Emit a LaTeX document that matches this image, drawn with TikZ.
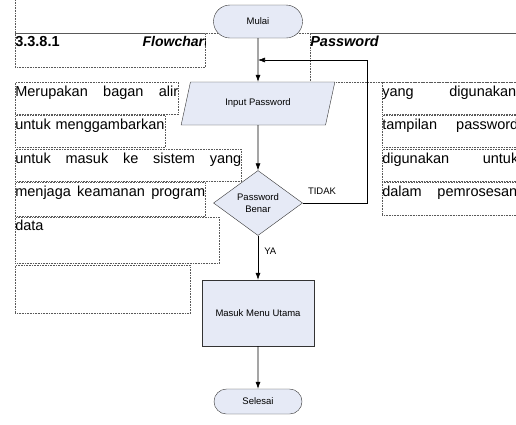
\documentclass[tikz,border=0pt]{standalone}
\usepackage{fontspec}
\setmainfont{Liberation Sans}
\usepackage{xcolor}
\usetikzlibrary{shapes.geometric, shapes.misc, arrows.meta}
\definecolor{boxfill}{HTML}{E6EAF6}

\begin{document}
\begin{tikzpicture}[
		x = 1pt, y = -1pt,
		every node/.style = {inner sep = 0pt},
		frame/.style    = {draw = black!65, densely dotted, line width = 0.6pt,
			anchor = north west, align = left, text height = 14pt,
			font = \fontsize{14.5}{17}\selectfont},
		head/.style     = {font = \fontsize{14}{17}\selectfont\bfseries},
		shapebox/.style = {draw = black!80, fill = boxfill,
			font = \fontsize{9.5}{12.5}\selectfont},
		terminal/.style = {shapebox, rounded rectangle},
		inout/.style    = {shapebox, trapezium, trapezium left angle = 63,
			trapezium right angle = 117, trapezium stretches = true},
		decision/.style = {shapebox, diamond, aspect = 1.37, align = center},
		process/.style  = {shapebox, rectangle},
		label/.style    = {font = \fontsize{9.5}{12.5}\selectfont},
		line/.style     = {draw = black, line width = 0.6pt, -{Latex[length = 7pt, width = 5pt]}}
	]
	\useasboundingbox (0,0) rectangle (516,424);

	% bingkai teks halaman
	\node [frame, text width = 520pt, text height = 0pt, text depth = 43pt] (atas) at (15,-10) {};
	\node [frame, text width = 190pt, text height = 13pt, text depth = 21pt] (judulkiri) at (15,33) {\bfseries 3.3.8.1};
	\begin{scope}
		\clip (judulkiri.north west) rectangle (judulkiri.south east);
		\node [head, anchor = base east] (flow) at (209,46) {\itshape Flowchart};
	\end{scope}
	\node [frame, text width = 220pt, text height = 13pt, text depth = 36pt] (judulkanan) at (310,33) {\bfseries\itshape Password};

	\node [frame, text width = 163pt, text depth = 18pt] (f1) at (15,82) {\hbox to 163pt{Merupakan\hfill bagan\hfill alir}};
	\node [frame, text width = 150pt, text depth = 18pt] (f2) at (15,115) {untuk menggambarkan};
	\node [frame, text width = 226pt, text depth = 18pt] (f3) at (15,149) {\hbox to 226pt{untuk\hfill masuk\hfill ke\hfill sistem\hfill yang}};
	\node [frame, text width = 190pt, text depth = 20pt] (f4) at (15,182) {\hbox to 190pt{menjaga\hfill keamanan\hfill program}};
	\node [frame, text width = 204pt, text height = 13pt, text depth = 33pt] (f5) at (15,217) {data};
	\node [frame, text width = 175pt, text depth = 34pt] (f6) at (15,265) {};

	\node [frame, text width = 150pt, text depth = 18pt] (r1) at (382,82) {\hbox to 134pt{yang\hfill digunakan}};
	\node [frame, text width = 150pt, text depth = 18pt] (r2) at (382,115) {\hbox to 136pt{tampilan\hfill password}};
	\node [frame, text width = 150pt, text depth = 18pt] (r3) at (382,149) {\hbox to 136pt{digunakan\hfill untuk}};
	\node [frame, text width = 150pt, text depth = 19pt] (r4) at (382,182) {\hbox to 135pt{dalam\hfill pemrosesan}};

	% flowchart
	\node [terminal, minimum width = 89pt, minimum height = 33pt] (mulai) at (258,21.5) {Mulai};
	\node [inout, minimum width = 154pt, minimum height = 43pt] (input) at (258,103.5) {Input Password};
	\node [decision, minimum width = 89pt, minimum height = 65pt] (cek) at (258,203) {Password\\Benar};
	\node [process, minimum width = 112pt, minimum height = 66pt] (menu) at (258,313) {Masuk Menu Utama};
	\node [terminal, minimum width = 88pt, minimum height = 25pt] (selesai) at (258,401.5) {Selesai};

	\coordinate (balik) at (367,60);
	\coordinate (gabung) at (258,60);

	\draw [line] (mulai) -- (input);
	\draw [line] (input) -- (cek);
	\draw [line] (cek) -- node [label, right = 6pt, pos = 0.35] (ya) {YA} (menu);
	\draw [line] (menu) -- (selesai);
	\draw [line] (cek.east) -- node [label, above = 8pt, pos = 0.3] (tidak) {TIDAK} (cek.east -| balik) -- (balik) -- (gabung);
\end{tikzpicture}
\end{document}
